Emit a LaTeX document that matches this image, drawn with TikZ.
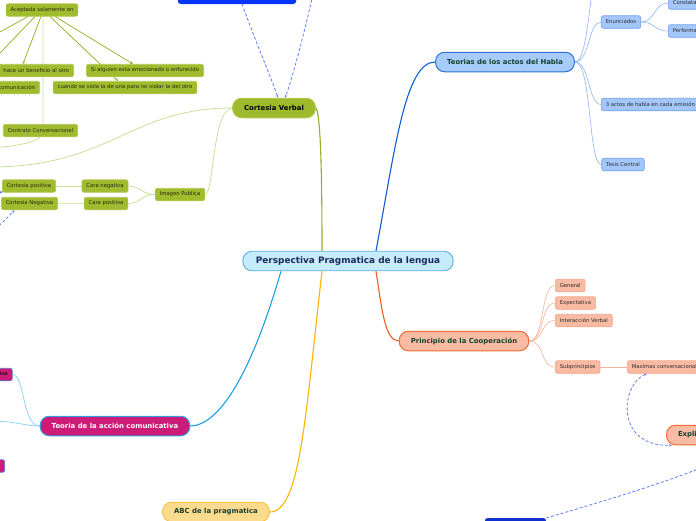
\documentclass[tikz,border=0pt]{standalone}
\usepackage{fontspec}
\setmainfont{DejaVu Sans}
\usetikzlibrary{arrows.meta}

\definecolor{centerfill}{HTML}{C6EBFB}
\definecolor{centerline}{HTML}{5DAEE0}
\definecolor{centertext}{HTML}{1B2B5B}
\definecolor{maintext}{HTML}{11402E}
\definecolor{cvfill}{HTML}{9FBA2C}
\definecolor{cvline}{HTML}{B0C84A}
\definecolor{leafgreen}{HTML}{A0BB2D}
\definecolor{leafgreenline}{HTML}{B3CB55}
\definecolor{greentext}{HTML}{26260F}
\definecolor{tahfill}{HTML}{A7CBFA}
\definecolor{tahline}{HTML}{2E70DA}
\definecolor{blueleaf}{HTML}{A4C7FA}
\definecolor{blueleafline}{HTML}{6EA0EC}
\definecolor{leaftext}{HTML}{2A2A2A}
\definecolor{pcfill}{HTML}{F9BBA4}
\definecolor{pcline}{HTML}{F2693A}
\definecolor{salmonleafline}{HTML}{F5A488}
\definecolor{tacfill}{HTML}{CD1B78}
\definecolor{tacline}{HTML}{2F9DE0}
\definecolor{abcfill}{HTML}{FDDB8E}
\definecolor{abcline}{HTML}{F8C443}
\definecolor{topblue}{HTML}{0535F8}
\definecolor{botblue}{HTML}{1030D0}
\definecolor{dashblue}{HTML}{5F80F3}
\definecolor{linkcv}{HTML}{8DB41F}
\definecolor{linktah}{HTML}{0C5DD6}
\definecolor{linkpc}{HTML}{EF5A27}
\definecolor{linktac}{HTML}{1AA0E3}
\definecolor{linkabc}{HTML}{FFB300}
\definecolor{subgreen}{HTML}{CADF98}
\definecolor{darkgreen}{HTML}{8AB21D}
\definecolor{subblue}{HTML}{8EB6F2}
\definecolor{subsalmon}{HTML}{F6B399}
\definecolor{subcyan}{HTML}{92D4F3}

\pgfdeclarelayer{lines}
\pgfsetlayers{lines,main}

\begin{document}
\begin{tikzpicture}[x=1pt,y=-1pt,
  mainbox/.style={draw, line width=1pt, rounded corners=9pt, minimum height=19.5pt,
    inner xsep=11.5pt, font=\fontsize{6.9}{8}\selectfont\bfseries},
  leaf/.style={draw, line width=.6pt, rounded corners=2pt, minimum height=12.5pt,
    inner xsep=4.5pt, inner ysep=1pt, font=\fontsize{5.3}{6}\selectfont},
  greenleaf/.style={leaf, fill=leafgreen, draw=leafgreenline, text=greentext},
  blueleaf/.style={leaf, fill=blueleaf, draw=blueleafline, text=leaftext},
  salmonleaf/.style={leaf, fill=pcfill, draw=salmonleafline, text=leaftext},
  magleaf/.style={leaf, fill=tacfill, draw=tacline!70!tacfill, text=black},
  mainlink/.style={line width=1.1pt},
  sublink/.style={line width=.6pt},
  arrowlink/.style={darkgreen, line width=.7pt, -{Stealth[length=3pt,width=2.6pt]}},
  dashlink/.style={dashblue, line width=.8pt, dash pattern=on 3pt off 2pt},
  tip/.style={-{Stealth[length=3pt,width=2.6pt]}}]
  \useasboundingbox (0,0) rectangle (696,520);

  \node[mainbox, line width=.9pt, fill=centerfill, draw=centerline, text=centertext, inner xsep=13pt,
    font=\fontsize{8.9}{10}\selectfont\bfseries] (central) at (348,261) {Perspectiva Pragmatica de la lengua};
  \node[mainbox, fill=cvfill, draw=cvline, text=black] (cv) at (274,108) {Cortesia Verbal};
  \node[mainbox, fill=tahfill, draw=tahline, text=maintext] (tah) at (505,62) {Teorias de los actos del Habla};
  \node[mainbox, fill=pcfill, draw=pcline, text=maintext] (pc) at (464,341) {Principio de la Cooperación};
  \node[mainbox, fill=tacfill, draw=tacline, text=white] (tac) at (115,426) {Teoria de la acción comunicativa};
  \node[mainbox, fill=abcfill, draw=abcline, text=maintext] (abc) at (216,512) {ABC de la pragmatica};
  \node[mainbox, fill=pcfill, draw=pcline, text=maintext, anchor=west] (expl) at (666,435) {Explicaturas};
  \node[draw=topblue, fill=topblue, rounded corners=3pt, minimum width=118pt, minimum height=20pt,
    anchor=south] (topbox) at (237,4) {};
  \node[draw=botblue, fill=botblue, rounded corners=3pt, minimum width=61pt, minimum height=20pt,
    anchor=north] (botbox) at (515.5,518) {};

  \node[greenleaf] (acep) at (42,10) {Aceptada solamente en};
  \node[greenleaf, anchor=east] (hace) at (74,70.5) {hace un beneficio al otro};
  \node[greenleaf, anchor=east] (comu) at (40,87.5) {comunicación};
  \node[greenleaf] (sial) at (145,70.5) {Si alguien esta emocionado o enfurecido};
  \node[greenleaf] (cuan) at (125,87.5) {cuando se viola la de una para no violar la del otro};
  \node[greenleaf] (cc) at (40.5,130.5) {Contrato Conversacional};
  \node[greenleaf] (cpos) at (29,186) {Cortesia positiva};
  \node[greenleaf] (cneg) at (29.5,203.5) {Cortesia Negativa};
  \node[greenleaf] (caran) at (105,186) {Cara negativa};
  \node[greenleaf] (carap) at (106,203.5) {Cara positiva};
  \node[greenleaf] (ip) at (180,194.5) {Imagen Publica};

  \node[blueleaf] (enun) at (621,22) {Enunciados};
  \node[blueleaf, anchor=west] (const) at (668,3) {Constatativos};
  \node[blueleaf, anchor=west] (perf) at (668,31) {Performativos};
  \node[blueleaf, anchor=west] (tres) at (601,104.5) {3 actos de habla en cada emisión};
  \node[blueleaf] (tesis) at (623,164.5) {Tesis Central};

  \node[salmonleaf, anchor=west] (gen) at (555,285.5) {General};
  \node[salmonleaf, anchor=west] (expc) at (555,303) {Expectativa};
  \node[salmonleaf, anchor=west] (inter) at (555,320.5) {Interacción Verbal};
  \node[salmonleaf, anchor=west] (subp) at (555,367) {Subprincipios};
  \node[salmonleaf, anchor=west] (maxi) at (627,367) {Maximas conversacionales};

  \node[magleaf, anchor=east] (mag1) at (12.5,374.5) {Competencia comunicativa};
  \node[magleaf, anchor=east] (mag2) at (5,466) {Mundo de la vida};

  \coordinate (offA) at (-20,43);
  \coordinate (offB) at (-20,74);
  \coordinate (offC) at (-10,148);
  \coordinate (offD) at (-10,167);
  \coordinate (offE) at (314,-10);
  \coordinate (offF) at (-12,236);
  \coordinate (offG) at (-20,200);
  \coordinate (offH) at (592,-8);
  \coordinate (offI) at (-10,421);
  \coordinate (offJ) at (706,466);

  \begin{pgfonlayer}{lines}
  \draw[mainlink, linkcv] ([xshift=-26pt]central.north) .. controls (322,160) and (320,112) .. (cv.east);
  \draw[mainlink, linktah] ([xshift=28pt]central.north) .. controls (395,150) and (405,62) .. (tah.west);
  \draw[mainlink, linkpc] ([xshift=28pt]central.south) .. controls (382,310) and (385,341) .. (pc.west);
  \draw[mainlink, linktac] ([xshift=-67pt]central.south) .. controls (245,395) and (212,426) .. (tac.east);
  \draw[mainlink, linkabc] ([xshift=-26pt]central.south) .. controls (305,420) and (300,512) .. (abc.east);

  \draw[sublink, subgreen, line width=.8pt] (cv.west) .. controls (130,108) and (110,167) .. (offD);
  \draw[sublink, subgreen, line width=.8pt] (cv.west) .. controls (212,110) and (214,194.5) .. (ip.east);
  \draw[sublink, subgreen, line width=.8pt] (ip.west) .. controls (142,194.5) and (140,186) .. (caran.east);
  \draw[sublink, subgreen, line width=.8pt] (ip.west) .. controls (142,194.5) and (140,203.5) .. (carap.east);
  \draw[sublink, subgreen, line width=.8pt] (caran.west) -- (cpos.east);
  \draw[sublink, subgreen!70!white, line width=1.6pt] (carap.west) -- (cneg.east);
  \draw[sublink, subgreen, line width=.8pt] ([xshift=1pt]acep.south) -- ++(0,115) .. controls ++(0,10) and (20,146) .. (offC);

  \draw[arrowlink] ([xshift=-1pt]acep.south) -- ([xshift=-51pt]hace.north east);
  \draw[arrowlink] ([xshift=8pt]acep.south) -- ([xshift=-7pt]cuan.north);
  \draw[arrowlink] ([xshift=13pt]acep.south) -- ([xshift=-12pt]sial.north);
  \draw[darkgreen, line width=.7pt] ([xshift=-14pt]acep.south) -- (offA);
  \draw[darkgreen, line width=.7pt] ([xshift=-7pt]acep.south) -- (offB);

  \draw[sublink, subblue] (tah.east) .. controls (585,62) and (588,20) .. (offH);
  \draw[sublink, subblue] (tah.east) .. controls (590,62) and (588,22) .. (enun.west);
  \draw[sublink, subblue] (tah.east) .. controls (590,62) and (588,104.5) .. (tres.west);
  \draw[sublink, subblue] (tah.east) .. controls (592,62) and (588,164.5) .. (tesis.west);
  \draw[sublink, subblue] (enun.east) .. controls (655,22) and (654,3) .. (const.west);
  \draw[sublink, subblue] (enun.east) .. controls (655,22) and (654,31) .. (perf.west);

  \draw[sublink, subsalmon] (pc.east) .. controls (545,341) and (540,285.5) .. (gen.west);
  \draw[sublink, subsalmon] (pc.east) .. controls (545,341) and (540,303) .. (expc.west);
  \draw[sublink, subsalmon] (pc.east) .. controls (545,341) and (540,320.5) .. (inter.west);
  \draw[sublink, subsalmon] (pc.east) .. controls (545,341) and (540,367) .. (subp.west);
  \draw[sublink, subsalmon] (subp.east) -- (maxi.west);

  \draw[sublink, subcyan, line width=.8pt] (tac.west) .. controls (22,426) and (25,374.5) .. (mag1.east);
  \draw[sublink, subcyan, line width=.8pt] (tac.west) .. controls (25,426) and (15,421) .. (offI);

  \draw[dashlink, tip] ([xshift=5pt]topbox.south) .. controls (255,40) and (272,80) .. ([xshift=4pt]cv.north);
  \draw[dashlink, tip] (offE) .. controls (305,30) and (292,80) .. ([xshift=11pt]cv.north);
  \draw[dashlink, tip] (offF) .. controls (0,225) and (10,215) .. ([xshift=-15pt]cneg.south);
  \draw[dashlink, tip] (offG) -- ([xshift=1pt,yshift=1pt]cpos.south west);
  \draw[dashlink, {Stealth[length=3pt,width=2.6pt]}-{Stealth[length=3pt,width=2.6pt]}]
    ([xshift=20pt]maxi.south west) .. controls (620,385) and (615,447) .. ([xshift=6pt]expl.south west);
  \draw[dashlink] (botbox.north east) .. controls (590,505) and (650,488) .. (offJ);
  \end{pgfonlayer}
\end{tikzpicture}
\end{document}
